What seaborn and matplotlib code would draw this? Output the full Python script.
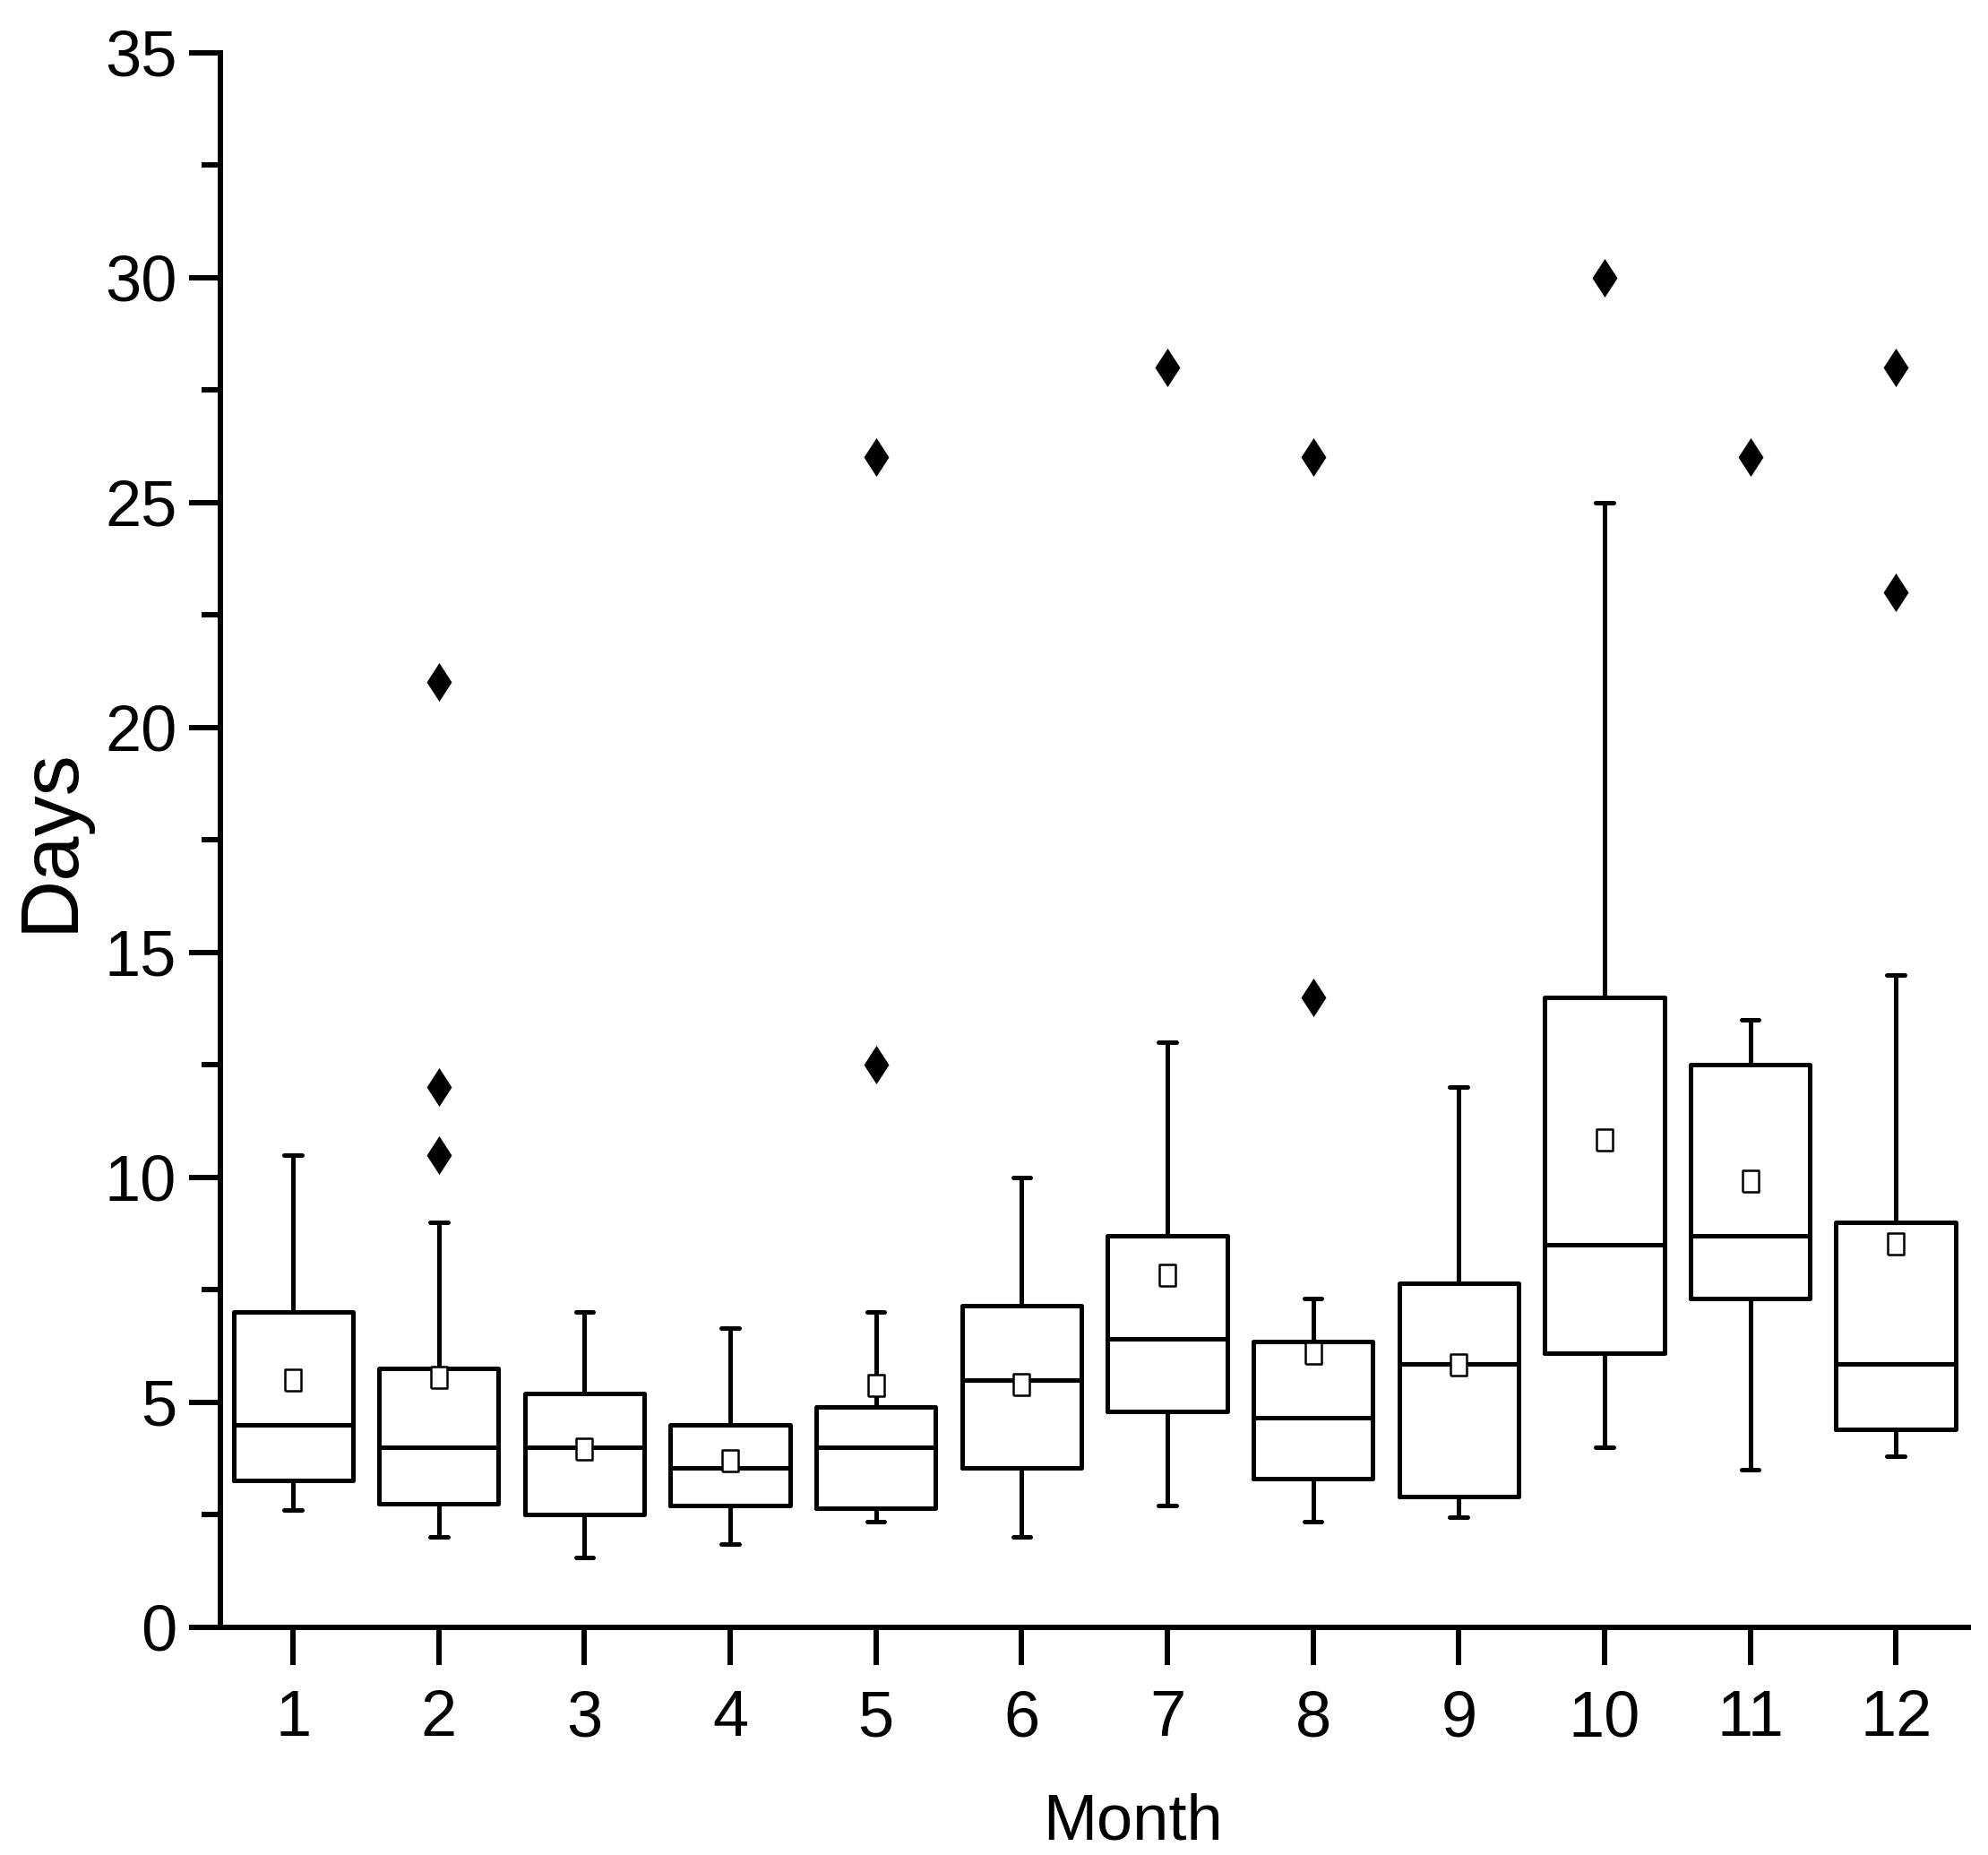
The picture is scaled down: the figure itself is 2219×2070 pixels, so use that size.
import matplotlib
matplotlib.use("Agg")
import matplotlib.pyplot as plt
from matplotlib.ticker import MultipleLocator
import seaborn as sns

months = [1, 2, 3, 4, 5, 6, 7, 8, 9, 10, 11, 12]
whislo = [2.6, 2.0, 1.55, 1.85, 2.35, 2.0, 2.7, 2.35, 2.45, 4.0, 3.5, 3.8]
q1 = [3.27, 2.75, 2.5, 2.7, 2.65, 3.55, 4.8, 3.3, 2.9, 6.1, 7.3, 4.4]
median = [4.5, 4.0, 4.0, 3.55, 4.0, 5.5, 6.4, 4.65, 5.85, 8.5, 8.7, 5.85]
q3 = [7.0, 5.75, 5.2, 4.5, 4.9, 7.15, 8.7, 6.35, 7.65, 14.0, 12.5, 9.0]
whishi = [10.5, 9.0, 7.0, 6.65, 7.0, 10.0, 13.0, 7.3, 12.0, 25.0, 13.5, 14.5]
means = [5.5, 5.55, 3.95, 3.7, 5.38, 5.4, 7.83, 6.1, 5.83, 10.83, 9.92, 8.53]

outlier_month = [2, 2, 2, 5, 5, 7, 8, 8, 10, 11, 12, 12]
outlier_days = [10.5, 12, 21, 12.5, 26, 28, 14, 26, 30, 26, 23, 28]

sns.set_style("ticks")
plt.rcParams["font.family"] = ["Liberation Sans", "DejaVu Sans"]
plt.rcParams["text.color"] = "black"
plt.rcParams["axes.labelcolor"] = "black"
plt.rcParams["xtick.color"] = "black"
plt.rcParams["ytick.color"] = "black"

fig = plt.figure(figsize=(22.19, 20.70), dpi=100)
ax = fig.add_axes([0.1108, 0.1228, 0.8795, 0.8489])

# box stats straight from the read values
stats = []
for i in range(len(months)):
    stats.append({"med": median[i], "q1": q1[i], "q3": q3[i],
                  "whislo": whislo[i], "whishi": whishi[i], "fliers": []})

lw = 3.6
ax.bxp(stats, positions=months, widths=0.82, capwidths=0.12,
       showfliers=False, manage_ticks=False,
       boxprops=dict(color="black", linewidth=lw),
       whiskerprops=dict(color="black", linewidth=lw),
       capprops=dict(color="black", linewidth=lw),
       medianprops=dict(color="black", linewidth=lw))

# mean markers (open rectangles) and outliers (filled diamonds)
rect = [(-0.75, -1), (0.75, -1), (0.75, 1), (-0.75, 1), (-0.75, -1)]
diamond = [(0, 1), (0.65, 0), (0, -1), (-0.65, 0), (0, 1)]
sns.scatterplot(x=months, y=means, marker=rect, s=320, facecolor="white",
                edgecolor="black", linewidth=1.8, zorder=4, ax=ax)
sns.scatterplot(x=outlier_month, y=outlier_days, marker=diamond, s=960,
                color="black", linewidth=0, zorder=4, ax=ax)

ax.set_xlim(0.5, 12.5)
ax.set_ylim(0, 35)
ax.set_xticks(months)
ax.set_xticklabels([str(m) for m in months])
ax.yaxis.set_major_locator(MultipleLocator(5))
ax.yaxis.set_minor_locator(MultipleLocator(2.5))

sns.despine(ax=ax)
for side in ["left", "bottom"]:
    ax.spines[side].set_linewidth(4.3)
    ax.spines[side].set_color("black")

ax.tick_params(axis="y", which="major", direction="out", length=25, width=4.3,
               labelsize=52, pad=10)
ax.tick_params(axis="y", which="minor", direction="out", length=15, width=4.3)
ax.tick_params(axis="x", which="major", direction="out", length=30, width=4.3,
               labelsize=52, pad=20)

ax.set_xlabel("Month", fontsize=52)
ax.set_ylabel("Days", fontsize=65)
ax.xaxis.set_label_coords(0.522, -0.105)
ax.yaxis.set_label_coords(-0.075, 0.5)

fig.savefig("out.png", dpi=100, facecolor="white")
